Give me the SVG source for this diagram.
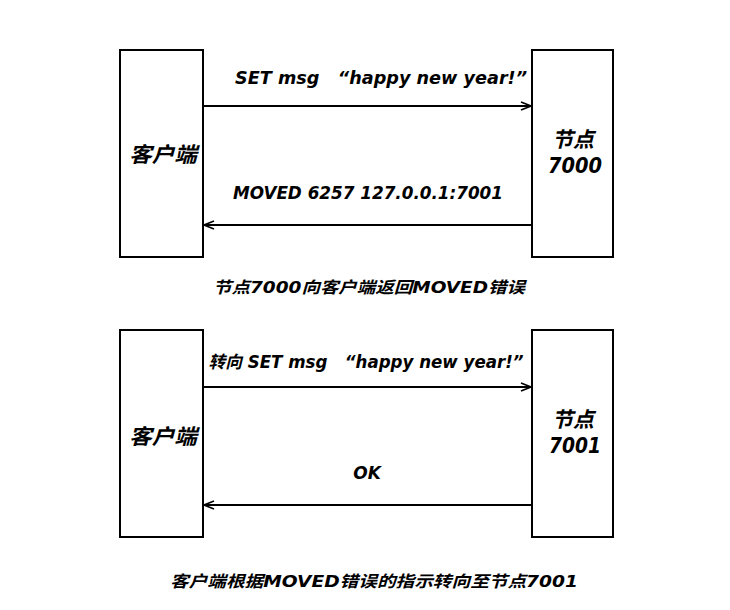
<svg xmlns="http://www.w3.org/2000/svg" width="730" height="610" viewBox="0 0 730 610">
<defs>
<marker id="ah" markerWidth="12" markerHeight="10" refX="11" refY="5" orient="auto" markerUnits="userSpaceOnUse">
<path d="M1,1 L11,5 L1,9" fill="none" stroke="#000" stroke-width="1.6"/>
</marker>
</defs>
<style>
.box{fill:#fff;stroke:#000;stroke-width:2}
.ln{stroke:#000;stroke-width:2;fill:none;marker-end:url(#ah)}
text{font-family:"DejaVu Sans","Noto Sans CJK SC",sans-serif;font-weight:bold;font-style:italic;fill:#000}
.nl{font-size:21px;text-anchor:middle}
.ml{font-size:17px;text-anchor:middle}
.cap{font-size:16px;text-anchor:middle}
</style>
<rect width="730" height="610" fill="#fff"/>
<g id="client1"><rect class="box" x="120" y="50" width="83" height="207"/><text class="nl" x="163" y="162" textLength="68" lengthAdjust="spacingAndGlyphs">客户端</text></g>
<g id="node7000"><rect class="box" x="532" y="50" width="81" height="207"/><text class="nl" x="573" y="147">节点</text><text class="nl" x="575" y="173" textLength="54" lengthAdjust="spacingAndGlyphs">7000</text></g>
<g id="client2"><rect class="box" x="120" y="330" width="83" height="207"/><text class="nl" x="163" y="444" textLength="68" lengthAdjust="spacingAndGlyphs">客户端</text></g>
<g id="node7001"><rect class="box" x="532" y="330" width="81" height="207"/><text class="nl" x="573" y="427">节点</text><text class="nl" x="575" y="453" textLength="52" lengthAdjust="spacingAndGlyphs">7001</text></g>
<g id="connectors">
<line class="ln" x1="203" y1="106" x2="531" y2="106"/>
<line class="ln" x1="532" y1="225" x2="204" y2="225"/>
<line class="ln" x1="203" y1="387" x2="531" y2="387"/>
<line class="ln" x1="532" y1="505" x2="204" y2="505"/>
</g>
<text class="ml" x="381" y="84" xml:space="preserve" textLength="292" lengthAdjust="spacingAndGlyphs">SET msg   “happy new year!”</text>
<text class="ml" x="368" y="199" textLength="270" lengthAdjust="spacingAndGlyphs">MOVED 6257 127.0.0.1:7001</text>
<text class="cap" x="369" y="293" textLength="312" lengthAdjust="spacingAndGlyphs">节点7000向客户端返回MOVED错误</text>
<text class="ml" x="366" y="368" xml:space="preserve" textLength="315" lengthAdjust="spacingAndGlyphs">转向 SET msg   “happy new year!”</text>
<text class="ml" x="367" y="479">OK</text>
<text class="cap" x="374" y="587" textLength="408" lengthAdjust="spacingAndGlyphs">客户端根据MOVED错误的指示转向至节点7001</text>
</svg>
